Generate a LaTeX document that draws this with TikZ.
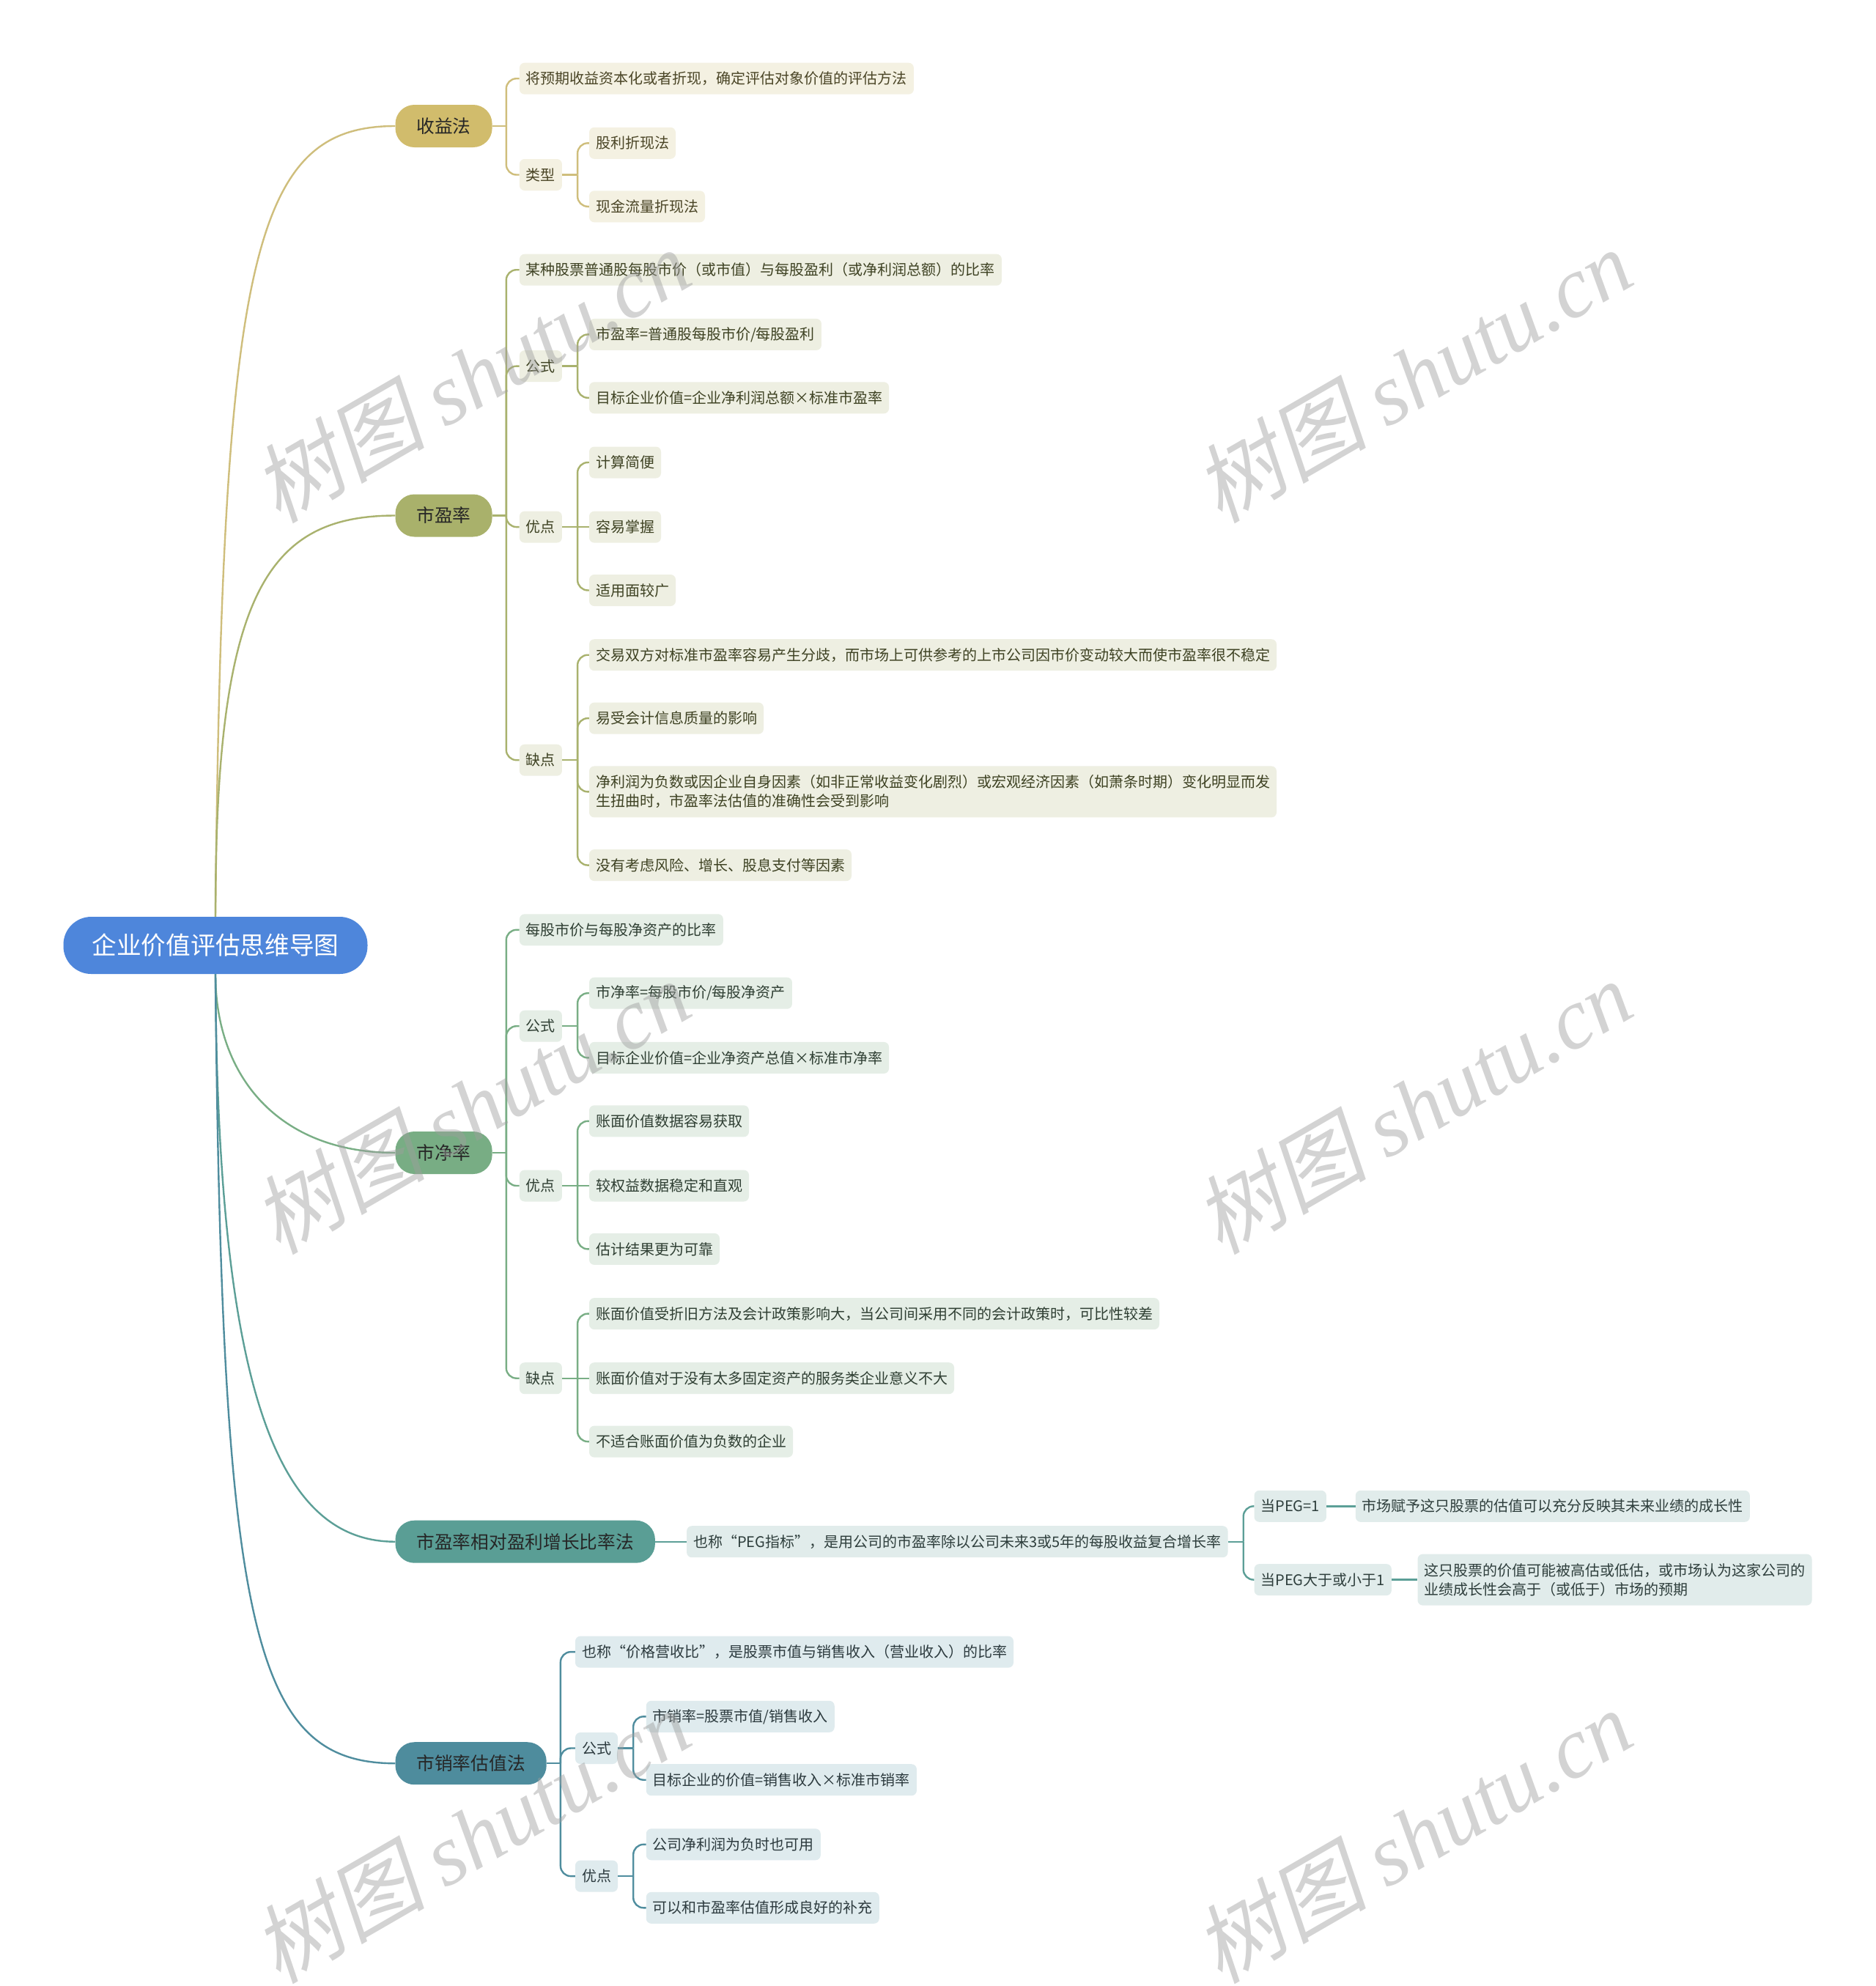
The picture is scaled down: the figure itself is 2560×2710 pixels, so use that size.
\documentclass[tikz,border=0pt]{standalone}
\usepackage{fontspec}
\setmainfont{Noto Sans CJK SC}
\newfontfamily\wmcjk[FakeSlant=0.2]{Noto Sans CJK SC}
\newfontfamily\wmlat{Liberation Serif}
\definecolor{rootc}{HTML}{4E86DB}
\definecolor{ga}{HTML}{D1BC6C}\definecolor{gal}{HTML}{CFBE7C}\definecolor{gaf}{HTML}{F4F1E2}\definecolor{gat}{HTML}{4A4526}
\definecolor{gb}{HTML}{A9B16B}\definecolor{gbl}{HTML}{A9B26E}\definecolor{gbf}{HTML}{EEEFE2}\definecolor{gbt}{HTML}{3E4223}
\definecolor{gc}{HTML}{78AD84}\definecolor{gcl}{HTML}{79AE85}\definecolor{gcf}{HTML}{E5EEE6}\definecolor{gct}{HTML}{2F3F33}
\definecolor{gd}{HTML}{5A9E95}\definecolor{gdl}{HTML}{5C9F97}\definecolor{gdf}{HTML}{E1ECEB}\definecolor{gdt}{HTML}{2E3E3C}
\definecolor{ge}{HTML}{4E8C9D}\definecolor{gel}{HTML}{4F8D9E}\definecolor{gef}{HTML}{DFEBEE}\definecolor{get}{HTML}{2C3A3E}
\definecolor{wmc}{HTML}{9E9E9E}
\begin{document}
\begin{tikzpicture}[x=1pt,y=-1pt,
  every node/.style={font=\fontsize{20}{26}\selectfont},
  leaf/.style={rounded corners=7pt, inner xsep=9pt, inner ysep=0pt, minimum height=43pt, anchor=west},
  twol/.style={leaf, align=left, minimum height=70pt},
  mainnode/.style={rounded corners=26pt, inner xsep=29pt, inner ysep=0pt, minimum height=58pt, anchor=west, text=black!85, font=\fontsize{24.7}{30}\selectfont},
  con/.style={line width=2.4pt},
  br/.style={con, rounded corners=14pt},
  la/.style={leaf, fill=gaf, text=gat}, lb/.style={leaf, fill=gbf, text=gbt},
  lc/.style={leaf, fill=gcf, text=gct}, ld/.style={leaf, fill=gdf, text=gdt},
  le/.style={leaf, fill=gef, text=get},
  wm/.style={text=wmc, text opacity=0.45, rotate=30, font=\fontsize{118}{118}\selectfont}
]
\fill[white] (0,0) rectangle (2560,2710);
\useasboundingbox (0,0) rectangle (2560,2710);

% root
\node[fill=rootc, text=white, rounded corners=38pt, minimum width=415pt, minimum height=78pt,
  font=\fontsize{33.7}{40}\selectfont] (root) at (294,1290) {企业价值评估思维导图};

% level 1
\node[mainnode, fill=ga] (n1) at (539.3,172) {收益法};
\node[mainnode, fill=gb] (n2) at (539.3,703.5) {市盈率};
\node[mainnode, fill=gc] (n3) at (539.3,1573) {市净率};
\node[mainnode, fill=gd] (n4) at (539.3,2103.7) {市盈率相对盈利增长比率法};
\node[mainnode, fill=ge] (n5) at (539.3,2406.2) {市销率估值法};

% group 1
\node[la] (a1) at (708.7,107.2) {将预期收益资本化或者折现，确定评估对象价值的评估方法};
\node[la] (a2) at (708.7,238.5) {类型};
\node[la] (a21) at (803.8,195.3) {股利折现法};
\node[la] (a22) at (803.8,281.8) {现金流量折现法};

% group 2
\node[lb] (b1) at (708.7,368.2) {某种股票普通股每股市价（或市值）与每股盈利（或净利润总额）的比率};
\node[lb] (b2) at (708.7,499.6) {公式};
\node[lb] (b21) at (803.8,456.4) {市盈率=普通股每股市价/每股盈利};
\node[lb] (b22) at (803.8,542.8) {目标企业价值=企业净利润总额×标准市盈率};
\node[lb] (b3) at (708.7,719.1) {优点};
\node[lb] (b31) at (803.8,631) {计算简便};
\node[lb] (b32) at (803.8,719.1) {容易掌握};
\node[lb] (b33) at (803.8,805.5) {适用面较广};
\node[lb] (b4) at (708.7,1037.2) {缺点};
\node[lb] (b41) at (803.8,893.7) {交易双方对标准市盈率容易产生分歧，而市场上可供参考的上市公司因市价变动较大而使市盈率很不稳定};
\node[lb] (b42) at (803.8,980.1) {易受会计信息质量的影响};
\node[lb, twol] (b43) at (803.8,1080.4) {净利润为负数或因企业自身因素（如非正常收益变化剧烈）或宏观经济因素（如萧条时期）变化明显而发\\生扭曲时，市盈率法估值的准确性会受到影响};
\node[lb] (b44) at (803.8,1180.6) {没有考虑风险、增长、股息支付等因素};

% group 3
\node[lc] (p1) at (708.7,1268.8) {每股市价与每股净资产的比率};
\node[lc] (p2) at (708.7,1400.2) {公式};
\node[lc] (p21) at (803.8,1355.2) {市净率=每股市价/每股净资产};
\node[lc] (p22) at (803.8,1443.4) {目标企业价值=企业净资产总值×标准市净率};
\node[lc] (p3) at (708.7,1618) {优点};
\node[lc] (p31) at (803.8,1529.8) {账面价值数据容易获取};
\node[lc] (p32) at (803.8,1618) {较权益数据稳定和直观};
\node[lc] (p33) at (803.8,1704.4) {估计结果更为可靠};
\node[lc] (p4) at (708.7,1880.7) {缺点};
\node[lc] (p41) at (803.8,1792.6) {账面价值受折旧方法及会计政策影响大，当公司间采用不同的会计政策时，可比性较差};
\node[lc] (p42) at (803.8,1880.7) {账面价值对于没有太多固定资产的服务类企业意义不大};
\node[lc] (p43) at (803.8,1967.1) {不适合账面价值为负数的企业};

% group 4
\node[ld] (d1) at (936.9,2103.7) {也称“PEG指标”，是用公司的市盈率除以公司未来3或5年的每股收益复合增长率};
\node[ld] (d11) at (1711.3,2055.3) {当PEG=1};
\node[ld] (d111) at (1849.6,2055.3) {市场赋予这只股票的估值可以充分反映其未来业绩的成长性};
\node[ld] (d12) at (1711.3,2155.6) {当PEG大于或小于1};
\node[ld, twol] (d121) at (1934.3,2155.6) {这只股票的价值可能被高估或低估，或市场认为这家公司的\\业绩成长性会高于（或低于）市场的预期};

% group 5
\node[le] (e1) at (784.8,2254.1) {也称“价格营收比”，是股票市值与销售收入（营业收入）的比率};
\node[le] (e2) at (784.8,2385.5) {公式};
\node[le] (e21) at (881.6,2342.3) {市销率=股票市值/销售收入};
\node[le] (e22) at (881.6,2428.7) {目标企业的价值=销售收入×标准市销率};
\node[le] (e3) at (784.8,2560.1) {优点};
\node[le] (e31) at (881.6,2516.8) {公司净利润为负时也可用};
\node[le] (e32) at (881.6,2603.3) {可以和市盈率估值形成良好的补充};

% root connectors
\draw[con, gal] (root.north) .. controls (303,346) and (346,172) .. (n1.west);
\draw[con, gbl] (root.north) .. controls (294,812) and (363,703.5) .. (n2.west);
\draw[con, gcl] (root.south) .. controls (294,1469) and (380,1573) .. (n3.west);
\draw[con, gdl] (root.south) .. controls (297,1901) and (380,2104) .. (n4.west);
\draw[con, gel] (root.south) .. controls (302.5,2230) and (346,2406) .. (n5.west);

% group 1 connectors
\draw[con, gal] (n1.east) -- ++(19,0) coordinate (s1);
\foreach \k in {a1,a2} \draw[br, gal] (s1) |- (\k.west);
\draw[con, gal] (a2.east) -- ++(21,0) coordinate (sa2);
\foreach \k in {a21,a22} \draw[br, gal] (sa2) |- (\k.west);

% group 2 connectors
\draw[con, gbl] (n2.east) -- ++(19,0) coordinate (s2);
\foreach \k in {b1,b2,b3,b4} \draw[br, gbl] (s2) |- (\k.west);
\draw[con, gbl] (b2.east) -- ++(21,0) coordinate (sb2);
\foreach \k in {b21,b22} \draw[br, gbl] (sb2) |- (\k.west);
\draw[con, gbl] (b3.east) -- ++(21,0) coordinate (sb3);
\foreach \k in {b31,b33} \draw[br, gbl] (sb3) |- (\k.west);
\draw[con, gbl] (sb3) -- (b32.west);
\draw[con, gbl] (b4.east) -- ++(21,0) coordinate (sb4);
\foreach \k in {b41,b42,b43,b44} \draw[br, gbl] (sb4) |- (\k.west);

% group 3 connectors
\draw[con, gcl] (n3.east) -- ++(19,0) coordinate (s3);
\foreach \k in {p1,p2,p3,p4} \draw[br, gcl] (s3) |- (\k.west);
\draw[con, gcl] (p2.east) -- ++(21,0) coordinate (sp2);
\foreach \k in {p21,p22} \draw[br, gcl] (sp2) |- (\k.west);
\draw[con, gcl] (p3.east) -- ++(21,0) coordinate (sp3);
\foreach \k in {p31,p33} \draw[br, gcl] (sp3) |- (\k.west);
\draw[con, gcl] (sp3) -- (p32.west);
\draw[con, gcl] (p4.east) -- ++(21,0) coordinate (sp4);
\foreach \k in {p41,p43} \draw[br, gcl] (sp4) |- (\k.west);
\draw[con, gcl] (sp4) -- (p42.west);

% group 4 connectors
\draw[con, gdl] (n4.east) -- (d1.west);
\draw[con, gdl] (d1.east) -- ++(21,0) coordinate (sd1);
\foreach \k in {d11,d12} \draw[br, gdl] (sd1) |- (\k.west);
\draw[con, gdl] (d11.east) -- (d111.west);
\draw[con, gdl] (d12.east) -- (d121.west);

% group 5 connectors
\draw[con, gel] (n5.east) -- ++(19,0) coordinate (s5);
\foreach \k in {e1,e2,e3} \draw[br, gel] (s5) |- (\k.west);
\draw[con, gel] (e2.east) -- ++(21,0) coordinate (se2);
\foreach \k in {e21,e22} \draw[br, gel] (se2) |- (\k.west);
\draw[con, gel] (e3.east) -- ++(21,0) coordinate (se3);
\foreach \k in {e31,e32} \draw[br, gel] (se3) |- (\k.west);

% watermarks
\node[wm] (wm1) at (643,512) {{\wmcjk 树图} {\wmlat\itshape shutu.cn}};
\node[wm] (wm2) at (1928,512) {{\wmcjk 树图} {\wmlat\itshape shutu.cn}};
\node[wm] (wm3) at (643,1510) {{\wmcjk 树图} {\wmlat\itshape shutu.cn}};
\node[wm] (wm4) at (1928,1510) {{\wmcjk 树图} {\wmlat\itshape shutu.cn}};
\node[wm] (wm5) at (643,2505) {{\wmcjk 树图} {\wmlat\itshape shutu.cn}};
\node[wm] (wm6) at (1928,2505) {{\wmcjk 树图} {\wmlat\itshape shutu.cn}};
\end{tikzpicture}
\end{document}
